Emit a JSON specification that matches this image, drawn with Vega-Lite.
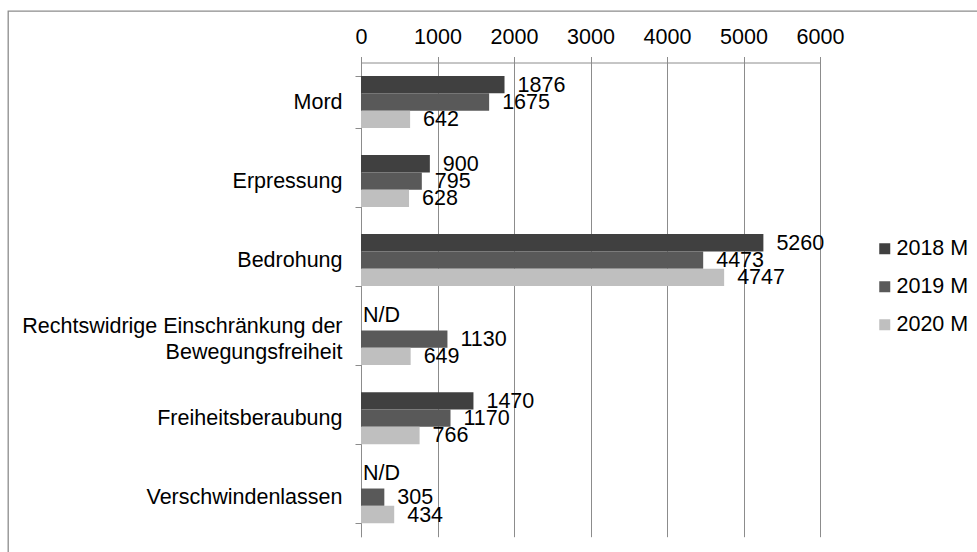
{
  "$schema": "https://vega.github.io/schema/vega-lite/v6.json",
  "autosize": "none",
  "padding": {"left": 8, "top": 11, "right": -10, "bottom": -10},
  "width": 979,
  "height": 551,
  "background": "white",
  "config": {
    "font": "Liberation Sans",
    "view": {"stroke": "#8c8c8c", "strokeWidth": 1.3}
  },
  "data": {
    "values": [
      {"category": "Mord", "year": "2018 M", "value": 1876, "label": "1876"},
      {"category": "Mord", "year": "2019 M", "value": 1675, "label": "1675"},
      {"category": "Mord", "year": "2020 M", "value": 642, "label": "642"},
      {"category": "Erpressung", "year": "2018 M", "value": 900, "label": "900"},
      {"category": "Erpressung", "year": "2019 M", "value": 795, "label": "795"},
      {"category": "Erpressung", "year": "2020 M", "value": 628, "label": "628"},
      {"category": "Bedrohung", "year": "2018 M", "value": 5260, "label": "5260"},
      {"category": "Bedrohung", "year": "2019 M", "value": 4473, "label": "4473"},
      {"category": "Bedrohung", "year": "2020 M", "value": 4747, "label": "4747"},
      {"category": "Rechtswidrige Einschränkung der Bewegungsfreiheit", "year": "2018 M", "value": null, "label": "N/D"},
      {"category": "Rechtswidrige Einschränkung der Bewegungsfreiheit", "year": "2019 M", "value": 1130, "label": "1130"},
      {"category": "Rechtswidrige Einschränkung der Bewegungsfreiheit", "year": "2020 M", "value": 649, "label": "649"},
      {"category": "Freiheitsberaubung", "year": "2018 M", "value": 1470, "label": "1470"},
      {"category": "Freiheitsberaubung", "year": "2019 M", "value": 1170, "label": "1170"},
      {"category": "Freiheitsberaubung", "year": "2020 M", "value": 766, "label": "766"},
      {"category": "Verschwindenlassen", "year": "2018 M", "value": null, "label": "N/D"},
      {"category": "Verschwindenlassen", "year": "2019 M", "value": 305, "label": "305"},
      {"category": "Verschwindenlassen", "year": "2020 M", "value": 434, "label": "434"}
    ]
  },
  "encoding": {
    "y": {
      "field": "category",
      "type": "nominal",
      "sort": ["Mord", "Erpressung", "Bedrohung", "Rechtswidrige Einschränkung der Bewegungsfreiheit", "Freiheitsberaubung", "Verschwindenlassen"],
      "scale": {"range": [51.5, 525.7], "paddingInner": 0.342, "paddingOuter": 0.171},
      "axis": {
        "orient": "left",
        "offset": -353,
        "title": null,
        "tickBand": "extent",
        "tickSize": 6,
        "tickColor": "#8c8c8c",
        "domainColor": "#8c8c8c",
        "labelPadding": 13,
        "labelFont": "Liberation Sans",
        "labelFontSize": 21.5,
        "labelColor": "black",
        "labelLimit": 500,
        "labelLineHeight": 26,
        "labelOffset": {"condition": {"test": "datum.value == 'Rechtswidrige Einschränkung der Bewegungsfreiheit'", "value": -13}, "value": 0},
        "grid": false,
        "labelExpr": "datum.value == 'Rechtswidrige Einschränkung der Bewegungsfreiheit' ? ['Rechtswidrige Einschränkung der', 'Bewegungsfreiheit'] : datum.value"
      }
    },
    "yOffset": {
      "field": "year",
      "type": "nominal",
      "sort": ["2018 M", "2019 M", "2020 M"],
      "scale": {"paddingInner": 0, "paddingOuter": 0}
    }
  },
  "layer": [
    {
      "mark": {"type": "bar"},
      "encoding": {
        "x": {
          "field": "value",
          "type": "quantitative",
          "scale": {"domain": [0, 6000], "range": [353, 812], "nice": false, "zero": true},
          "axis": {
            "orient": "top",
            "offset": -51.5,
            "title": null,
            "values": [0, 1000, 2000, 3000, 4000, 5000, 6000],
            "format": "d",
            "grid": true,
            "gridColor": "#8c8c8c",
            "gridOpacity": 1,
            "tickSize": 6,
            "tickColor": "#8c8c8c",
            "domainColor": "#8c8c8c",
            "labelPadding": 8,
            "labelFlush": false,
            "labelOverlap": false,
            "labelFont": "Liberation Sans",
            "labelFontSize": 21.5,
            "labelColor": "black"
          }
        },
        "color": {
          "field": "year",
          "type": "nominal",
          "scale": {"domain": ["2018 M", "2019 M", "2020 M"], "range": ["#404040", "#595959", "#bfbfbf"]},
          "legend": {
            "orient": "none",
            "legendX": 866,
            "legendY": 227,
            "title": null,
            "symbolType": "square",
            "symbolSize": 121,
            "symbolStrokeWidth": 0,
            "labelFont": "Liberation Sans",
            "labelFontSize": 21.5,
            "labelColor": "black",
            "labelOffset": 1,
            "rowPadding": 15,
            "padding": 0
          }
        }
      }
    },
    {
      "transform": [{"filter": "datum.value != null"}],
      "mark": {"type": "text", "align": "left", "baseline": "middle", "dx": 13, "dy": 1, "font": "Liberation Sans", "fontSize": 21.5, "color": "black"},
      "encoding": {
        "x": {"field": "value", "type": "quantitative"},
        "text": {"field": "label"}
      }
    },
    {
      "transform": [{"filter": "datum.value == null"}],
      "mark": {"type": "text", "align": "left", "baseline": "middle", "dx": 2, "dy": -6, "font": "Liberation Sans", "fontSize": 21.5, "color": "black"},
      "encoding": {
        "x": {"datum": 0, "type": "quantitative"},
        "text": {"field": "label"}
      }
    }
  ]
}
